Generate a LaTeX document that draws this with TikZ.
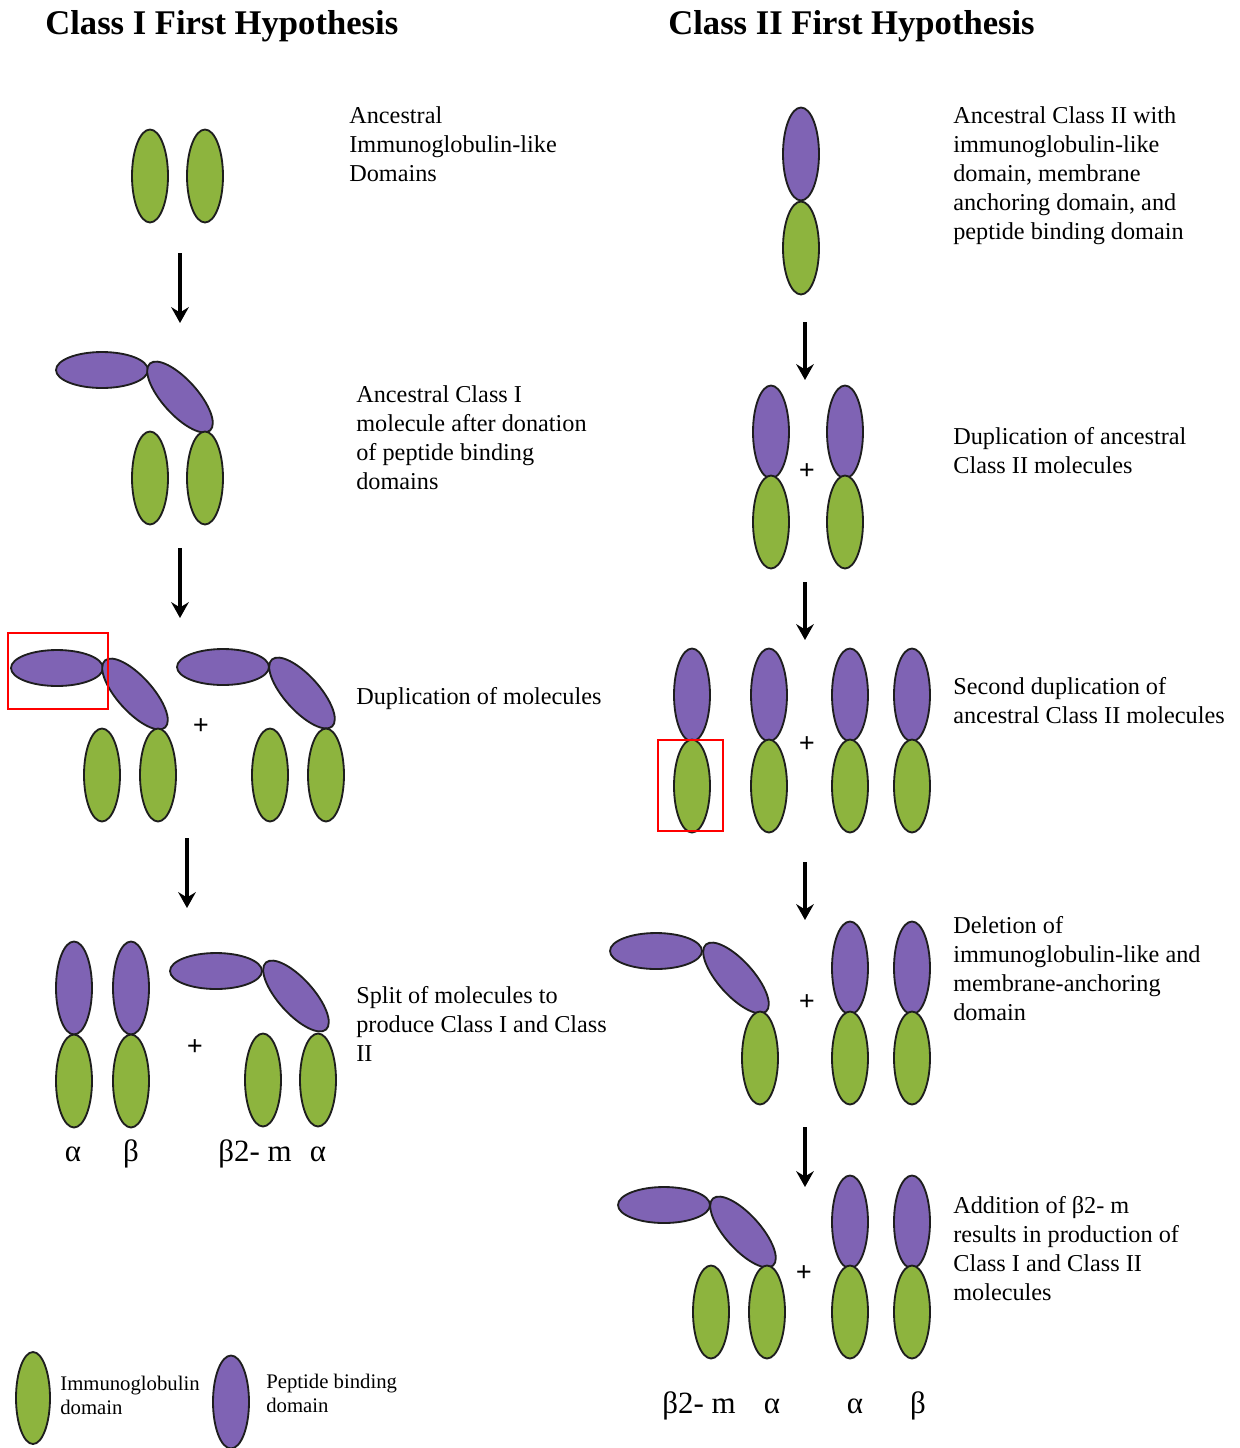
\documentclass[tikz,border=0pt]{standalone}
\usepackage{fontspec}
\setmainfont{Liberation Serif}
\usetikzlibrary{shapes.geometric,arrows.meta}
\definecolor{igreen}{RGB}{141,180,62}
\definecolor{ipurple}{RGB}{127,99,180}
\definecolor{iline}{RGB}{30,30,30}
\tikzset{
  dom/.style={ellipse, draw=iline, line width=1.05pt, inner sep=0pt, outer sep=0pt},
  gv/.style={dom, fill=igreen, minimum width=0.72cm, minimum height=1.86cm},
  pv/.style={dom, fill=ipurple, minimum width=0.72cm, minimum height=1.86cm},
  ph/.style={dom, fill=ipurple, minimum width=1.84cm, minimum height=0.72cm},
  pt/.style={dom, fill=ipurple, minimum width=1.8cm, minimum height=0.7cm, rotate=-48},
  arr/.style={line width=1.8pt, -{Stealth[length=9pt,width=10pt,inset=3pt]}},
  body/.style={inner sep=0pt, align=left, anchor=north west, font={\fontsize{13.8}{16.6}\selectfont}},
  bodyline/.style={inner sep=0pt, anchor=base west, font={\fontsize{13.8}{16.6}\selectfont}},
  ttl/.style={inner sep=0pt, anchor=base west, font={\fontsize{19.7}{23}\selectfont\bfseries}},
  grk/.style={inner sep=0pt, anchor=base, font={\fontsize{17.6}{20}\selectfont}},
  plus/.style={inner sep=0pt, font={\fontsize{16}{18}\selectfont\bfseries}},
  leg/.style={inner sep=0pt, align=left, anchor=north west, font={\fontsize{11.8}{13.6}\selectfont}},
  redbox/.style={draw=red, line width=1.5pt},
}
\begin{document}
\begin{tikzpicture}[x=0.02cm,y=-0.02cm]
\useasboundingbox (0,0) rectangle (1240,1448);
% Titles
\node[ttl] (t1) at (45,34) {Class I First Hypothesis};
\node[ttl] (t2) at (668,34) {Class II First Hypothesis};

% ---------- Left column ----------
% step 1
\node[gv] (l1a) at (150,176) {};
\node[gv] (l1b) at (205,176) {};
\node[body] (lt1) at (349,106) {Ancestral\\Immunoglobulin-like\\Domains};
\coordinate (la1s) at (180,253); \coordinate (la1e) at (180,323);
\draw[arr] (la1s) -- (la1e);
% step 2
\node[ph] (l2h) at (102,370) {};
\node[pt] (l2t) at (180,397) {};
\node[gv] (l2a) at (150,478) {};
\node[gv] (l2b) at (205,478) {};
\node[body] (lt2) at (356,385) {Ancestral Class I\\molecule after donation\\of peptide binding\\domains};
\coordinate (la2s) at (180,548); \coordinate (la2e) at (180,618);
\draw[arr] (la2s) -- (la2e);
% step 3
\node[ph] (l3h1) at (57,668) {};
\node[pt] (l3t1) at (135,694) {};
\node[gv] (l3a1) at (102,775) {};
\node[gv] (l3b1) at (158,775) {};
\node[plus] (l3p) at (201,727) {+};
\node[ph] (l3h2) at (223,667) {};
\node[pt] (l3t2) at (302,693) {};
\node[gv] (l3a2) at (270,775) {};
\node[gv] (l3b2) at (326,775) {};
\node[redbox, minimum width=2cm, minimum height=1.52cm, inner sep=0pt] (lred) at (58,671) {};
\node[bodyline] (lt3) at (356,704) {Duplication of molecules};
\coordinate (la3s) at (187,838); \coordinate (la3e) at (187,908);
\draw[arr] (la3s) -- (la3e);
% step 4
\node[pv] (l4p1) at (74,988) {};
\node[gv] (l4g1) at (74,1081) {};
\node[pv] (l4p2) at (131,988) {};
\node[gv] (l4g2) at (131,1081) {};
\node[plus] (l4p) at (195,1048) {+};
\node[ph] (l4h) at (216,971) {};
\node[pt] (l4t) at (296,996) {};
\node[gv] (l4a) at (263,1080) {};
\node[gv] (l4b) at (318,1080) {};
\node[body] (lt4) at (356,986) {Split of molecules to\\produce Class I and Class\\II};
\node[grk] (lg1) at (73,1161) {α};
\node[grk] (lg2) at (131,1161) {β};
\node[grk] (lg3) at (255,1161) {β2- m};
\node[grk] (lg4) at (318,1161) {α};
% legend
\node[gv, minimum width=0.68cm, minimum height=1.84cm] (kg) at (33,1398) {};
\node[leg] (kgt) at (60,1376) {Immunoglobulin\\domain};
\node[pv] (kp) at (231,1402) {};
\node[leg] (kpt) at (266,1374) {Peptide binding\\domain};

% ---------- Right column ----------
% step 1
\node[pv] (r1p) at (801,154) {};
\node[gv] (r1g) at (801,248) {};
\node[body] (rt1) at (953,106) {Ancestral Class II with\\immunoglobulin-like\\domain, membrane\\anchoring domain, and\\peptide binding domain};
\coordinate (ra1s) at (805,322); \coordinate (ra1e) at (805,380);
\draw[arr] (ra1s) -- (ra1e);
% step 2
\node[pv] (r2p1) at (771,432) {};
\node[gv] (r2g1) at (771,522) {};
\node[pv] (r2p2) at (845,432) {};
\node[gv] (r2g2) at (845,522) {};
\node[plus] (r2p) at (807,472) {+};
\node[body] (rt2) at (953,427) {Duplication of ancestral\\Class II molecules};
\coordinate (ra2s) at (805,582); \coordinate (ra2e) at (805,640);
\draw[arr] (ra2s) -- (ra2e);
% step 3
\node[pv] (r3p1) at (692,695) {};
\node[gv] (r3g1) at (692,786) {};
\node[pv] (r3p2) at (769,695) {};
\node[gv] (r3g2) at (769,786) {};
\node[pv] (r3p3) at (850,695) {};
\node[gv] (r3g3) at (850,786) {};
\node[pv] (r3p4) at (912,695) {};
\node[gv] (r3g4) at (912,786) {};
\node[plus] (r3p) at (807,745) {+};
\node[redbox, minimum width=1.3cm, minimum height=1.82cm, inner sep=0pt] (rred) at (690.5,785.5) {};
\node[body] (rt3) at (953,677) {Second duplication of\\ancestral Class II molecules};
\coordinate (ra3s) at (805,862); \coordinate (ra3e) at (805,920);
\draw[arr] (ra3s) -- (ra3e);
% step 4
\node[ph] (r4h) at (656,951) {};
\node[pt] (r4t) at (736,978) {};
\node[gv] (r4g) at (760,1058) {};
\node[plus] (r4p) at (807,1003) {+};
\node[pv] (r4p1) at (850,968) {};
\node[gv] (r4g1) at (850,1058) {};
\node[pv] (r4p2) at (912,968) {};
\node[gv] (r4g2) at (912,1058) {};
\node[body] (rt4) at (953,916) {Deletion of\\immunoglobulin-like and\\membrane-anchoring\\domain};
\coordinate (ra4s) at (805,1127); \coordinate (ra4e) at (805,1187);
\draw[arr] (ra4s) -- (ra4e);
% step 5
\node[ph] (r5h) at (664,1205) {};
\node[pt] (r5t) at (743,1232) {};
\node[gv] (r5a) at (711,1312) {};
\node[gv] (r5b) at (767,1312) {};
\node[plus] (r5p) at (804,1274) {+};
\node[pv] (r5p1) at (850,1222) {};
\node[gv] (r5g1) at (850,1312) {};
\node[pv] (r5p2) at (912,1222) {};
\node[gv] (r5g2) at (912,1312) {};
\node[body] (rt5) at (953,1196) {Addition of β2- m\\results in production of\\Class I and Class II\\molecules};
\node[grk] (rg1) at (699,1413) {β2- m};
\node[grk] (rg2) at (772,1413) {α};
\node[grk] (rg3) at (855,1413) {α};
\node[grk] (rg4) at (918,1413) {β};
\end{tikzpicture}
\end{document}
